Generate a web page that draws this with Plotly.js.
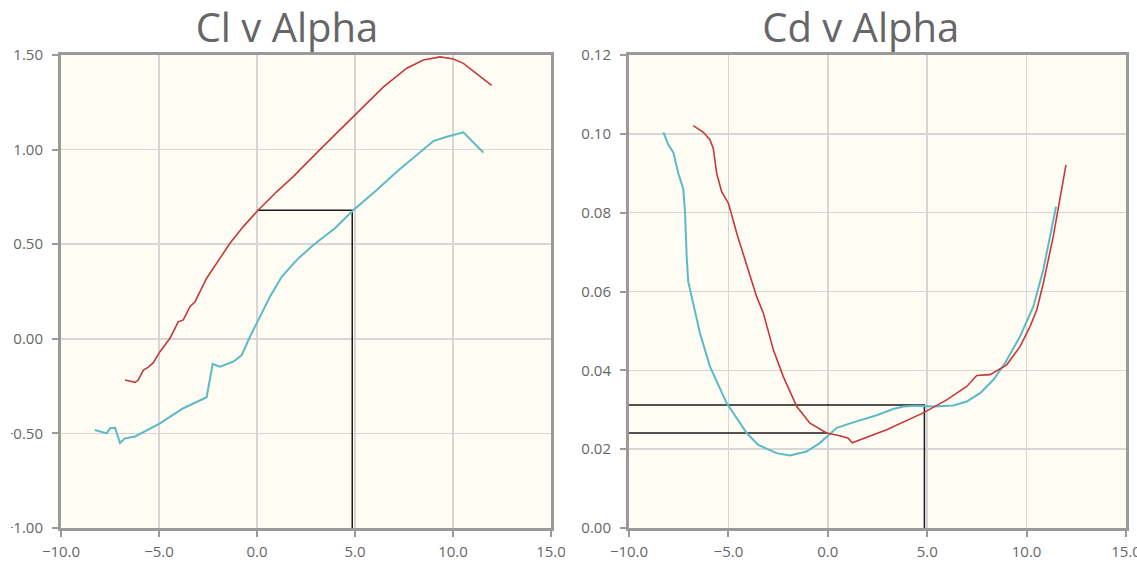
<!DOCTYPE html>
<html>
<head>
<meta charset="utf-8">
<script src="https://cdn.plot.ly/plotly-3.0.1.min.js"></script>
<style>
  html, body { margin:0; padding:0; background:#ffffff; width:1137px; height:563px; overflow:hidden; }
  #left { position:absolute; left:0; top:0; width:565px; height:563px; clip-path: inset(0 0 0 11px); }
  #right { position:absolute; left:565px; top:0; width:572px; height:563px; }
</style>
</head>
<body>
<div id="left"></div>
<div id="right"></div>
<script>
// ---- Cl v Alpha ----
const clAlphaRed = [-6.73,-6.22,-6.06,-5.80,-5.54,-5.29,-4.95,-4.44,-4.02,-3.76,-3.42,-3.16,-2.57,-2.06,-1.38,-0.70,0.03,1.00,1.85,3.21,5.09,6.44,7.64,8.49,9.34,10.02,10.53,11.97];
const clRed      = [-0.218,-0.230,-0.218,-0.165,-0.150,-0.126,-0.068,0.003,0.090,0.100,0.170,0.196,0.320,0.400,0.505,0.593,0.677,0.777,0.857,1.000,1.190,1.330,1.430,1.474,1.490,1.479,1.456,1.340];

const clAlphaTeal = [-8.27,-7.84,-7.67,-7.50,-7.24,-6.99,-6.73,-6.22,-4.95,-3.76,-2.57,-2.26,-1.89,-1.21,-0.78,-0.36,0.15,0.66,1.26,2.02,2.87,3.98,4.88,6.11,7.13,8.32,9.00,9.68,10.53,11.55];
const clTeal      = [-0.482,-0.496,-0.500,-0.473,-0.470,-0.550,-0.526,-0.516,-0.447,-0.367,-0.309,-0.133,-0.147,-0.121,-0.086,0.011,0.117,0.222,0.328,0.416,0.496,0.584,0.677,0.786,0.883,0.989,1.045,1.068,1.091,0.984];

// ---- Cd v Alpha ----
const cdAlphaRed = [-6.77,-6.26,-5.93,-5.76,-5.59,-5.34,-5.00,-4.58,-4.08,-3.58,-3.24,-2.74,-2.24,-1.56,-0.90,-0.06,0.61,1.03,1.23,2.29,2.96,4.80,5.98,6.99,7.49,8.16,9.00,9.67,10.17,10.51,10.84,11.34,11.98];
const cdRed      = [0.1021,0.1004,0.0985,0.0963,0.0900,0.0853,0.0824,0.0748,0.0667,0.0587,0.0545,0.0452,0.0384,0.0308,0.0266,0.0241,0.0234,0.0228,0.0216,0.0237,0.0249,0.0292,0.0325,0.0359,0.0387,0.0389,0.0414,0.0460,0.0511,0.0553,0.0621,0.0739,0.0921];

const cdAlphaTeal = [-8.27,-8.02,-7.77,-7.52,-7.27,-7.18,-7.10,-7.02,-6.43,-5.93,-5.09,-4.08,-3.50,-2.58,-1.91,-1.07,-0.39,0.45,1.28,2.46,3.29,3.80,4.47,5.31,6.32,6.99,7.66,8.33,8.91,9.67,10.34,10.84,11.48];
const cdTeal      = [0.1004,0.0972,0.0953,0.0900,0.0860,0.0799,0.0689,0.0625,0.0494,0.0410,0.0317,0.0241,0.0211,0.0190,0.0184,0.0194,0.0216,0.0254,0.0268,0.0286,0.0302,0.0308,0.0310,0.0308,0.0311,0.0321,0.0342,0.0376,0.0418,0.0486,0.0562,0.0655,0.0815];

// ---- Reference (design point) lines ----
const refAlphaZero = 0.0;
const refAlphaDesign = 4.86;
const refCl = 0.68;
const refCdTeal = 0.0312;
const refCdRed = 0.0241;

// ---- Axis ranges ----
const alphaRange = [-10, 15];
const clRange = [-1, 1.5];
const cdRange = [0, 0.12];

const RED = '#c43a3a';
const TEAL = '#5cbac6';
const FONT = 'Open Sans, sans-serif';
const TXT = '#666666';

function axisBase(extra) {
  return Object.assign({
    showgrid: true, gridcolor: '#d6d6d6', gridwidth: 1.5,
    zeroline: false, showline: true, linecolor: '#9a9a9a', linewidth: 3, mirror: true,
    ticks: 'outside', ticklen: 6, tickwidth: 2, tickcolor: '#9a9a9a',
    tickfont: {family: FONT, size: 15, color: TXT},
    ticklabeloverflow: 'allow',
    fixedrange: true
  }, extra);
}

function lineTrace(x, y, color, width) {
  return {x: x, y: y, type: 'scatter', mode: 'lines', line: {color: color, width: width}, hoverinfo: 'skip'};
}

const leftData = [
  lineTrace([refAlphaZero, refAlphaDesign, refAlphaDesign], [refCl, refCl, clRange[0]], '#1a1a1a', 1.5),
  lineTrace(clAlphaRed, clRed, RED, 1.6),
  lineTrace(clAlphaTeal, clTeal, TEAL, 2)
];

const leftLayout = {
  width: 565, height: 563,
  margin: {l: 61, r: 14, t: 55, b: 35, pad: 0},
  paper_bgcolor: 'rgba(0,0,0,0)', plot_bgcolor: '#fffcf4',
  showlegend: false,
  title: {text: 'Cl v Alpha', font: {family: FONT, size: 40, color: TXT},
          xref: 'container', x: 0.508, xanchor: 'center', yref: 'container', y: 0.95, yanchor: 'middle'},
  xaxis: axisBase({range: alphaRange, tick0: 0, dtick: 5, tickformat: '.1f', ticklabelstandoff: 2}),
  yaxis: axisBase({range: clRange, tick0: 0, dtick: 0.5, tickformat: '.2f', ticklabelstandoff: 6})
};

const rightData = [
  lineTrace([alphaRange[0], refAlphaDesign, refAlphaDesign], [refCdTeal, refCdTeal, cdRange[0]], '#1a1a1a', 1.5),
  lineTrace([alphaRange[0], refAlphaZero], [refCdRed, refCdRed], '#1a1a1a', 1.5),
  lineTrace(cdAlphaTeal, cdTeal, TEAL, 2),
  lineTrace(cdAlphaRed, cdRed, RED, 1.6)
];

const rightLayout = {
  width: 572, height: 563,
  margin: {l: 64, r: 11, t: 55, b: 35, pad: 0},
  paper_bgcolor: 'rgba(0,0,0,0)', plot_bgcolor: '#fffcf4',
  showlegend: false,
  title: {text: 'Cd v Alpha', font: {family: FONT, size: 40, color: TXT},
          xref: 'container', x: 0.517, xanchor: 'center', yref: 'container', y: 0.95, yanchor: 'middle'},
  xaxis: axisBase({range: alphaRange, tick0: 0, dtick: 5, tickformat: '.1f', ticklabelstandoff: 2}),
  yaxis: axisBase({range: cdRange, tick0: 0, dtick: 0.02, tickformat: '.2f', ticklabelstandoff: 6})
};

const config = {staticPlot: true, displayModeBar: false};
Plotly.newPlot('left', leftData, leftLayout, config);
Plotly.newPlot('right', rightData, rightLayout, config);
</script>
</body>
</html>
